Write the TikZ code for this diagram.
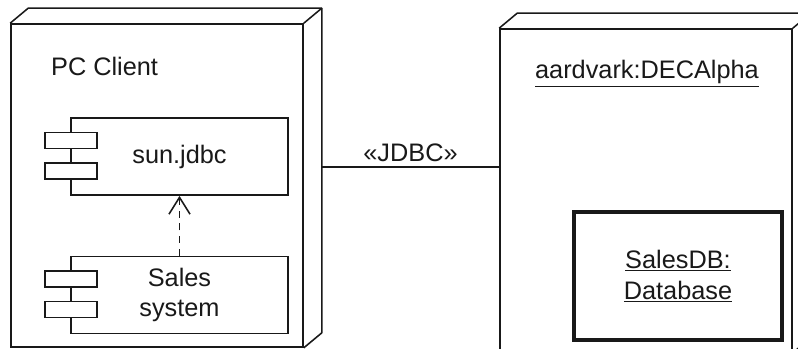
\documentclass[tikz,border=0pt]{standalone}
\usepackage{fontspec}
\setmainfont{Liberation Sans}
\usetikzlibrary{arrows.meta,calc}
\definecolor{ink}{RGB}{25,25,25}

\tikzset{
  face/.style={draw=ink, line width=1.1pt, fill=white, inner sep=0pt, minimum width=7.3cm, minimum height=8.075cm},
  edge3d/.style={draw=ink, line width=1.1pt, line join=round},
  comp/.style={draw=ink, line width=1.1pt, fill=white, minimum width=5.425cm, minimum height=1.93cm, align=center, inner sep=0pt},
  tab/.style={draw=ink, line width=1.1pt, fill=white, minimum width=1.3cm, minimum height=0.4cm, inner sep=0pt},
  dep/.style={draw=ink, line width=1.1pt, dash pattern=on 5pt off 4pt, -{Straight Barb[length=12pt,width=15pt]}},
  wire/.style={draw=ink, line width=1.1pt},
  lbl/.style={font=\fontsize{18}{21}\selectfont, text=ink}
}

\begin{document}
\begin{tikzpicture}[x=0.025cm, y=-0.025cm]
  \useasboundingbox (0,0) rectangle (798,349);
  % node 1: PC client
  \node[face] (pc) at (157,185.5) {};
  \draw[edge3d] (pc.north west) -- ++(18,-15) -- ($(pc.north east)+(18,-15)$)
    -- ($(pc.south east)+(18,-15)$) -- (pc.south east);
  \draw[edge3d] (pc.north east) -- ++(18,-15);
  \node[lbl, anchor=base west] (pcname) at ($(pc.north west)+(36,52)$) {PC Client};
  % node 2: DEC alpha
  \node[face] (alpha) at (646,190.5) {};
  \draw[edge3d] (alpha.north west) -- ++(18,-15) -- ($(alpha.north east)+(18,-15)$)
    -- ($(alpha.south east)+(18,-15)$) -- (alpha.south east);
  \draw[edge3d] (alpha.north east) -- ++(18,-15);
  \node[lbl, anchor=base] (alphaname) at ($(alpha.north)+(1,50.5)$) {\underline{aardvark:DECAlpha}};
  % components
  \node[comp, lbl] (jdbc) at (179.5,156.5) {sun.jdbc};
  \node[comp, lbl] (sales) at (179.5,295) {Sales\\system};
  \foreach \c in {jdbc,sales} {
    \node[tab] (\c-t1) at ($(\c.west)+(1,-16)$) {};
    \node[tab] (\c-t2) at ($(\c.west)+(1,14.5)$) {};
  }
  \draw[dep] (sales.north) -- (jdbc.south);
  % database
  \node[draw=ink, line width=2.8pt, minimum width=5.2cm, minimum height=3.2cm, align=center,
    lbl, font=\fontsize{18}{22}\selectfont] (db) at (678,276) {\underline{SalesDB:}\\\underline{Database}};
  % link
  \coordinate (pcside) at ($(pc.east)+(18,-18.5)$);
  \draw[wire] (pcside) -- (pcside -| alpha.west) node[midway, above, lbl] (jdbclbl) {«JDBC»};
\end{tikzpicture}
\end{document}
